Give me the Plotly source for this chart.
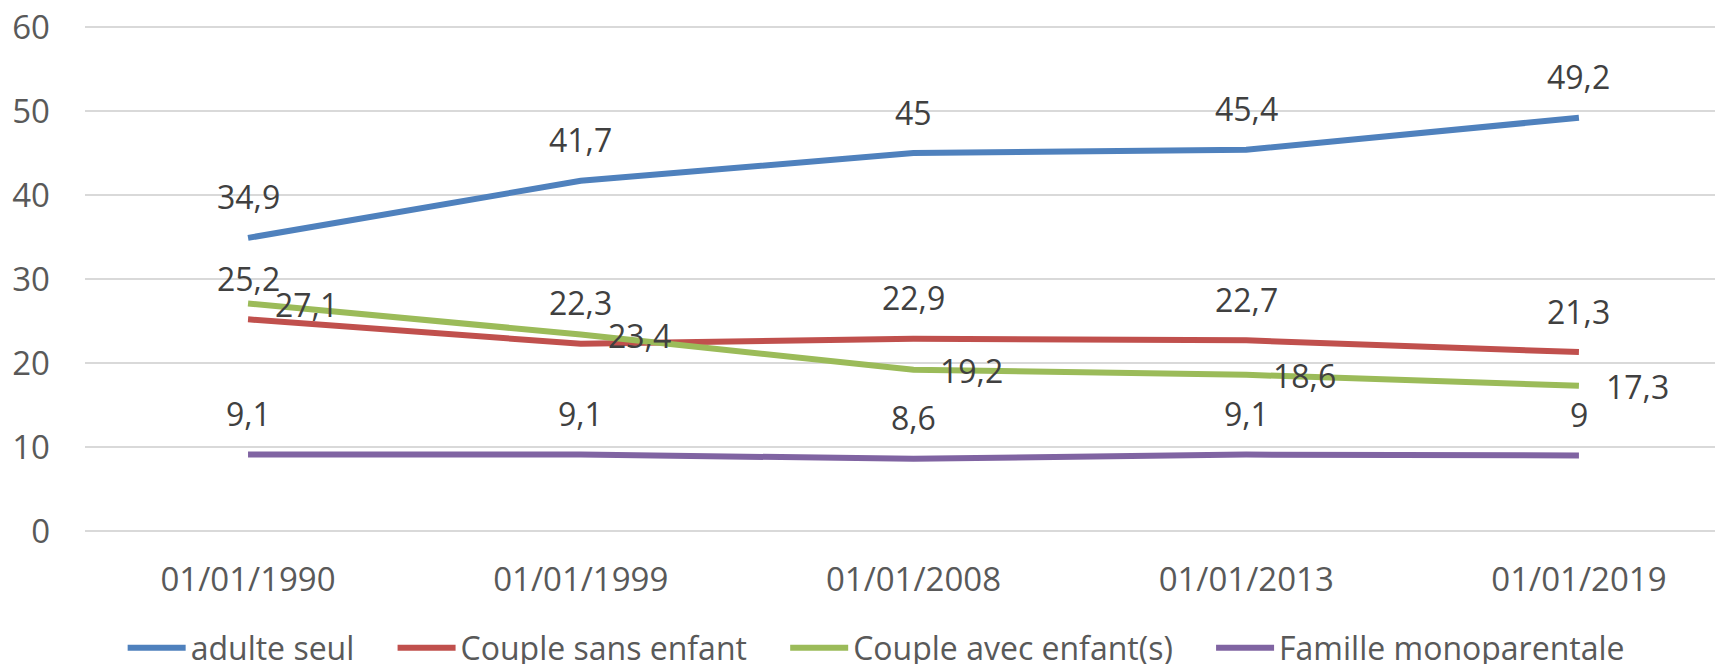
import plotly.graph_objects as go

# data
dates = ["01/01/1990", "01/01/1999", "01/01/2008", "01/01/2013", "01/01/2019"]
adulte_seul = [34.9, 41.7, 45, 45.4, 49.2]
couple_sans_enfant = [25.2, 22.3, 22.9, 22.7, 21.3]
couple_avec_enfants = [27.1, 23.4, 19.2, 18.6, 17.3]
famille_monoparentale = [9.1, 9.1, 8.6, 9.1, 9]

series = [
    ("adulte seul", adulte_seul, "#4F81BD", "above"),
    ("Couple sans enfant", couple_sans_enfant, "#C0504D", "above"),
    ("Couple avec enfant(s)", couple_avec_enfants, "#9BBB59", "right"),
    ("Famille monoparentale", famille_monoparentale, "#8064A2", "above"),
]

FONT = "Open Sans"
TICK_FS = 33
LABEL_FS = 32
LABEL_COLOR = "#404040"
AXIS_COLOR = "#595959"
NBSP = "\u00a0"


def fr(v):
    # french decimal comma, no trailing ".0"
    s = f"{v:g}"
    return s.replace(".", ",")


fig = go.Figure()
annotations = []

for i, (name, vals, color, where) in enumerate(series):
    pad = NBSP * 4 if i < len(series) - 1 else ""  # wider gaps between legend entries
    fig.add_trace(go.Scatter(
        x=dates, y=vals,
        name=name + pad,
        mode="lines",
        line=dict(color=color, width=6),
        hoverinfo="skip",
    ))
    for d, v in zip(dates, vals):
        if where == "above":
            annotations.append(dict(
                x=d, y=v, text=fr(v), showarrow=False,
                xanchor="center", yanchor="middle", yshift=41,
                font=dict(family=FONT, size=LABEL_FS, color=LABEL_COLOR),
            ))
        else:
            annotations.append(dict(
                x=d, y=v, text=fr(v), showarrow=False,
                xanchor="left", yanchor="middle", xshift=25, yshift=-1,
                font=dict(family=FONT, size=LABEL_FS, color=LABEL_COLOR),
            ))

# page body has an 8px default margin, so the figure sits 8px right/down
fig.update_layout(
    width=1723, height=664,
    margin=dict(l=77, r=8, t=17, b=141, autoexpand=False),
    paper_bgcolor="white", plot_bgcolor="white",
    font=dict(family=FONT, size=TICK_FS, color=AXIS_COLOR),
    annotations=annotations,
    showlegend=True,
    legend=dict(
        orientation="h", x=0.483, xanchor="center",
        y=-0.231, yanchor="middle",
        itemwidth=58,
        font=dict(family=FONT, size=LABEL_FS, color=AXIS_COLOR),
    ),
)

fig.update_xaxes(
    type="category", range=[-0.49, 4.433], automargin=False,
    showgrid=False, showline=False, zeroline=False,
    ticks="", ticklabelstandoff=26,
    tickfont=dict(family=FONT, size=TICK_FS, color=AXIS_COLOR),
)
# range a touch above 60 so the top gridline is kept
fig.update_yaxes(
    range=[0, 60.25], tickvals=[0, 10, 20, 30, 40, 50, 60], automargin=False,
    showgrid=True, gridcolor="#D9D9D9", gridwidth=1.5,
    zeroline=True, zerolinecolor="#D9D9D9", zerolinewidth=1.5,
    showline=False, ticks="", ticklabelstandoff=34,
    ticklabeloverflow="allow",
    tickfont=dict(family=FONT, size=TICK_FS, color=AXIS_COLOR),
)

fig.write_html("out.html")
